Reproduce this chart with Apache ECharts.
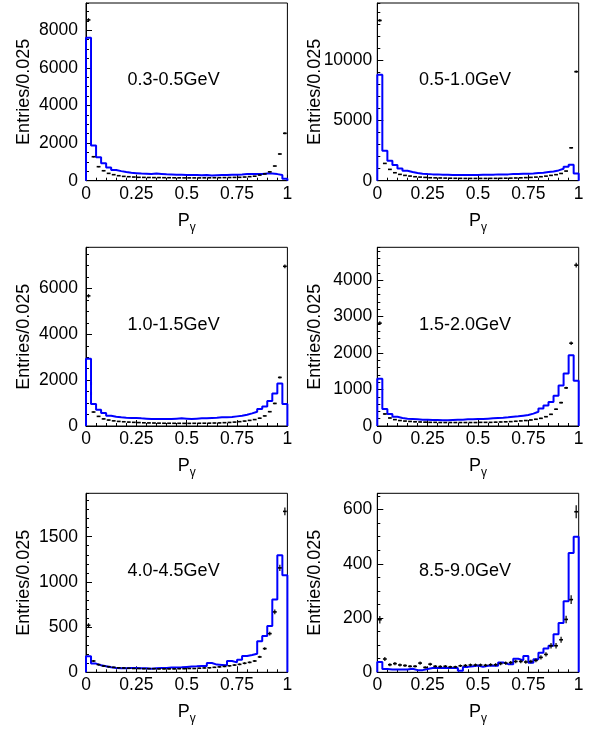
<!DOCTYPE html>
<html><head><meta charset="utf-8">
<script src="https://cdn.jsdelivr.net/npm/echarts@6/dist/echarts.min.js"></script>
<style>html,body{margin:0;padding:0;background:#fff}#c{width:592px;height:730px}</style>
</head><body><div id="c"></div>
<script>
// ---------------- data ----------------
const BIN_WIDTH = 0.025;
const panelLabels = ['0.3-0.5GeV', '0.5-1.0GeV', '1.0-1.5GeV', '1.5-2.0GeV', '4.0-4.5GeV', '8.5-9.0GeV'];
const yMax   = [9450, 14750, 7800, 4900, 1980, 660];
const yMajor = [2000, 5000, 2000, 1000, 500, 200];
const yMinor = [500, 1000, 500, 200, 100, 50];
const xMajor = 0.25;

const mc_03_05 = [7600, 1870, 1250, 930, 700, 570, 510, 460, 420, 400, 380, 370, 350, 380, 360, 340, 330, 320, 310, 300, 300, 300, 290, 300, 280, 290, 300, 300, 310, 320, 330, 350, 360, 350, 360, 380, 380, 350, 300, 110];
const data_03_05 = [8550, 1275, 745, 530, 390, 320, 265, 230, 212, 195, 180, 175, 170, 165, 165, 160, 158, 155, 152, 150, 150, 150, 150, 152, 155, 158, 160, 165, 170, 175, 180, 195, 215, 240, 300, 360, 470, 780, 1420, 2520];

const mc_05_10 = [8800, 2480, 1660, 1300, 1020, 830, 720, 635, 580, 550, 525, 525, 500, 500, 475, 475, 475, 475, 475, 475, 500, 500, 500, 525, 525, 525, 550, 550, 580, 580, 605, 635, 660, 720, 770, 855, 990, 1160, 1330, 600];
const data_05_10 = [13300, 1435, 940, 660, 525, 440, 385, 330, 300, 275, 245, 235, 225, 215, 205, 200, 195, 190, 190, 190, 190, 190, 195, 195, 200, 205, 215, 225, 240, 255, 275, 300, 330, 380, 440, 500, 600, 800, 2730, 9050];

const mc_10_15 = [2940, 960, 710, 565, 450, 405, 377, 362, 348, 348, 333, 320, 305, 305, 305, 305, 305, 320, 333, 320, 305, 320, 333, 333, 348, 362, 377, 377, 390, 420, 450, 493, 550, 623, 740, 850, 1090, 1420, 1855, 960];
const data_10_15 = [5680, 610, 420, 310, 260, 225, 200, 185, 170, 160, 150, 140, 135, 130, 125, 120, 120, 118, 118, 115, 115, 118, 120, 122, 125, 130, 135, 145, 155, 170, 190, 215, 245, 280, 340, 440, 625, 985, 2120, 6970];

const mc_15_20 = [1296, 465, 330, 255, 220, 200, 192, 183, 173, 173, 164, 164, 155, 155, 164, 173, 173, 183, 183, 190, 190, 200, 210, 220, 228, 237, 255, 265, 283, 300, 340, 390, 480, 560, 660, 830, 1110, 1440, 1940, 1240];
const data_15_20 = [2820, 330, 220, 175, 150, 135, 125, 115, 110, 105, 100, 100, 95, 95, 95, 95, 95, 95, 95, 95, 100, 100, 100, 105, 110, 115, 120, 130, 140, 150, 165, 185, 210, 255, 320, 460, 640, 1045, 2270, 4410];

const mc_40_45 = [177, 96, 77, 66, 55, 48, 44, 44, 48, 48, 44, 44, 40, 44, 48, 48, 52, 52, 55, 59, 63, 66, 70, 70, 103, 85, 81, 77, 125, 110, 140, 180, 192, 206, 343, 402, 512, 804, 1294, 1073];
const data_40_45 = [520, 125, 85, 70, 62, 55, 50, 48, 45, 42, 42, 40, 40, 40, 38, 38, 38, 38, 40, 40, 42, 42, 45, 48, 50, 55, 60, 65, 72, 80, 88, 100, 110, 125, 170, 262, 428, 668, 1155, 1780];

const mc_85_90 = [38, 12, 10, 10, 10, 10, 13, 8, 8, 12, 16, 16, 16, 16, 16, 16, 6, 20, 22, 25, 20, 24, 24, 24, 36, 30, 30, 50, 44, 60, 35, 48, 72, 88, 98, 140, 182, 262, 440, 500];
const data_85_90 = [194, 49, 28, 32, 27, 25, 22, 22, 34, 18, 30, 22, 21, 22, 20, 20, 24, 25, 27, 27, 27, 26, 28, 28, 32, 34, 36, 40, 40, 38, 40, 44, 55, 66, 98, 98, 120, 195, 268, 592];

const mcSeries   = [mc_03_05, mc_05_10, mc_10_15, mc_15_20, mc_40_45, mc_85_90];
const dataSeries = [data_03_05, data_05_10, data_10_15, data_15_20, data_40_45, data_85_90];

// ---------------- layout / style ----------------
const FONT = '"Liberation Sans", Arial, sans-serif';
const colLeft = [86, 377.3];
const rowTop = [3, 247.3, 493.3];
const rowBottom = [180.7, 426, 672.3];
const PANEL_W = 201.4;
const labelMargin = [8, 5];
const HALF_DASH = 0.0095;

const grids = [], xAxes = [], yAxes = [], series = [], graphics = [];

function histPoints(vals) {
  const pts = [[0, 0]];
  vals.forEach((v, i) => pts.push([i * BIN_WIDTH, v]));
  pts.push([1, vals[vals.length - 1]]);
  pts.push([1, 0]);
  return pts;
}
function errRender(params, api) {
  const x = api.value(0), y = api.value(1), e = api.value(2);
  const c = api.coord([x, y]);
  const l = api.coord([x - HALF_DASH, y]);
  const r = api.coord([x + HALF_DASH, y]);
  const t = api.coord([x, y + e]);
  const b = api.coord([x, Math.max(0, y - e)]);
  return {
    type: 'group',
    children: [
      {type: 'line', shape: {x1: l[0], y1: c[1], x2: r[0], y2: c[1]}, style: {stroke: '#000', lineWidth: 1.6}},
      {type: 'line', shape: {x1: c[0], y1: t[1], x2: c[0], y2: b[1]}, style: {stroke: '#000', lineWidth: 1.2}}
    ]
  };
}

for (let p = 0; p < 6; p++) {
  const col = p % 2, row = Math.floor(p / 2);
  const left = colLeft[col], top = rowTop[row], h = rowBottom[row] - rowTop[row];
  grids.push({left: left, top: top, width: PANEL_W, height: h, show: true,
    borderColor: '#000', borderWidth: 1, backgroundColor: 'transparent', containLabel: false, outerBoundsMode: 'none'});
  xAxes.push({
    type: 'value', gridIndex: p, min: 0, max: 1, interval: xMajor, position: 'bottom',
    axisLine: {show: true, lineStyle: {color: '#000', width: 1}},
    axisTick: {show: true, inside: true, length: 6, lineStyle: {color: '#000'}},
    minorTick: {show: true, splitNumber: 5, length: 3, lineStyle: {color: '#000'}},
    splitLine: {show: false},
    axisLabel: {color: '#000', fontFamily: FONT, fontSize: 17.5, margin: 4, formatter: v => String(v)},
    name: '{p|P}{g|γ}', nameLocation: 'middle', nameGap: 30, nameMoveOverlap: false,
    nameTextStyle: {rich: {
      p: {fontFamily: FONT, fontSize: 18, color: '#000', lineHeight: 20},
      g: {fontFamily: FONT, fontSize: 12, color: '#000', lineHeight: 12, padding: [13, 0, 0, 0]}
    }}
  });
  // major y axis
  yAxes.push({
    type: 'value', gridIndex: p, min: 0, max: yMax[p], interval: yMajor[p], position: 'left',
    axisLine: {show: true, lineStyle: {color: '#000', width: 1}},
    axisTick: {show: true, inside: true, length: 6, lineStyle: {color: '#000'}},
    splitLine: {show: false},
    axisLabel: {color: '#000', fontFamily: FONT, fontSize: 17.5, margin: labelMargin[col], showMaxLabel: false, formatter: v => String(v)},
    name: 'Entries/0.025', nameLocation: 'middle', nameGap: 53, nameMoveOverlap: false,
    nameTextStyle: {color: '#000', fontFamily: FONT, fontSize: 18}
  });
  // minor y ticks
  yAxes.push({
    type: 'value', gridIndex: p, min: 0, max: yMax[p], interval: yMinor[p], position: 'left',
    axisLine: {show: false}, splitLine: {show: false}, axisLabel: {show: false},
    axisTick: {show: true, inside: true, length: 3, lineStyle: {color: '#000'}}
  });
  series.push({
    type: 'line', xAxisIndex: p, yAxisIndex: 2 * p, step: 'end', showSymbol: false, symbol: 'none',
    clip: false, data: histPoints(mcSeries[p]), lineStyle: {color: '#0000ff', width: 2}, z: 2
  });
  series.push({
    type: 'custom', xAxisIndex: p, yAxisIndex: 2 * p, renderItem: errRender, z: 3,
    data: dataSeries[p].map((v, i) => [(i + 0.5) * BIN_WIDTH, v, Math.sqrt(v)])
  });
  graphics.push({
    type: 'text', x: left + 0.435 * PANEL_W, y: top + 0.435 * h,
    style: {text: panelLabels[p], font: '18px ' + FONT, fill: '#000', textAlign: 'center', textVerticalAlign: 'middle'}
  });
}

const chart = echarts.init(document.getElementById('c'), null, {renderer: 'canvas'});
chart.setOption({
  animation: false,
  backgroundColor: '#fff',
  grid: grids, xAxis: xAxes, yAxis: yAxes, series: series, graphic: graphics
});
</script></body></html>
